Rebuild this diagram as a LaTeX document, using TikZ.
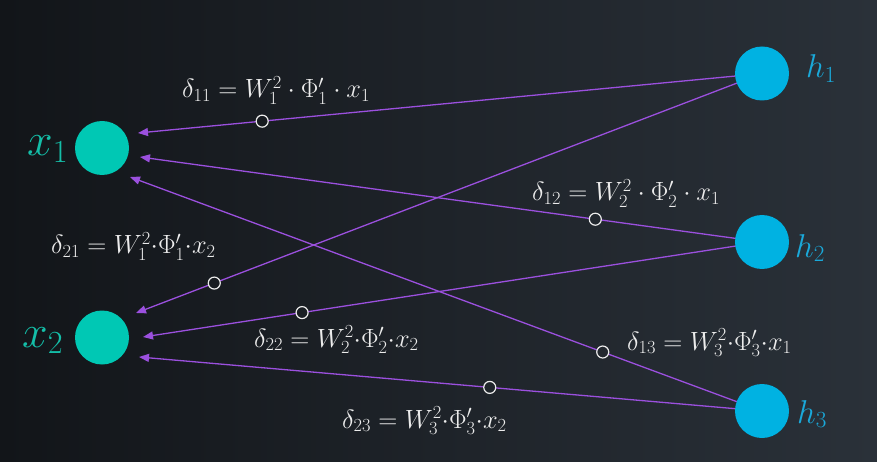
\RequirePackage{fix-cm}
\documentclass[tikz,border=0pt]{standalone}
\usetikzlibrary{arrows.meta}
\pgfdeclarelayer{bg}
\pgfdeclarelayer{edges}
\pgfsetlayers{bg,edges,main}
\definecolor{bgL}{HTML}{121519}
\definecolor{bgR}{HTML}{2A3139}
\definecolor{teal1}{HTML}{00C8B4}
\definecolor{blue1}{HTML}{00B2E2}
\definecolor{tealtxt}{HTML}{14BEA8}
\definecolor{bluetxt}{HTML}{1AA9DA}
\definecolor{edgec}{HTML}{9B50DE}
\definecolor{txt}{HTML}{ECECEC}
\tikzset{
  xnode/.style={circle,fill=teal1,minimum size=54pt,inner sep=0pt},
  hnode/.style={circle,fill=blue1,minimum size=54pt,inner sep=0pt},
  edge/.style={draw=edgec,line width=1.3pt,-{Triangle[length=10pt,width=8pt]}},
  midc/.style={circle,draw=txt,line width=1.2pt,minimum size=12pt,inner sep=0pt},
  dlabel/.style={text=txt,inner sep=0pt,anchor=base west,font=\fontsize{26.4}{31}\selectfont},
  xlabel/.style={text=tealtxt,inner sep=0pt,anchor=base west,font=\fontsize{46}{56}\selectfont},
  hlabel/.style={text=bluetxt,inner sep=0pt,anchor=base west,font=\fontsize{33}{40}\selectfont},
}
\begin{document}
\begin{tikzpicture}[x=1pt,y=-1pt]
\useasboundingbox (0,0) rectangle (877,462);
\begin{pgfonlayer}{bg}
\shade[left color=bgL,right color=bgR] (0,0) rectangle (877,462);
\end{pgfonlayer}
% nodes
\node[xnode] (x1) at (102,148) {};
\node[xnode] (x2) at (102,337.5) {};
\node[hnode] (h1) at (762,73.5) {};
\node[hnode] (h2) at (762,242) {};
\node[hnode] (h3) at (762,411) {};
% labels of nodes
\node[xlabel] (lx1) at (27,156) {$x_1$};
\node[xlabel] (lx2) at (22,347) {$x_2$};
\node[hlabel] (lh1) at (806,78) {$h_1$};
\node[hlabel] (lh2) at (795,257) {$h_2$};
\node[hlabel] (lh3) at (797,423) {$h_3$};
% arrow tips
\coordinate (t11) at (138,133);
\coordinate (t12) at (140,157);
\coordinate (t13) at (130,177);
\coordinate (t21) at (136,313);
\coordinate (t22) at (143,337);
\coordinate (t23) at (139,357);
\begin{pgfonlayer}{edges}
\draw[edge] (h1.center) -- (t11) node[midc,pos=0.801,fill=bgR!21!bgL] (m11) {};
\draw[edge] (h2.center) -- (t12) node[midc,pos=0.268,fill=bgR!68!bgL] (m12) {};
\draw[edge] (h3.center) -- (t13) node[midc,pos=0.252,fill=bgR!69!bgL] (m13) {};
\draw[edge] (h1.center) -- (t21) node[midc,pos=0.875,fill=bgR!24!bgL] (m21) {};
\draw[edge] (h2.center) -- (t22) node[midc,pos=0.743,fill=bgR!34!bgL] (m22) {};
\draw[edge] (h3.center) -- (t23) node[midc,pos=0.437,fill=bgR!56!bgL] (m23) {};
\end{pgfonlayer}
% delta labels
\node[dlabel] (d11) at (182,98) {$\delta_{11} = W_1^2 \cdot \Phi_1' \cdot x_1$};
\node[dlabel] (d12) at (532,201) {$\delta_{12} = W_2^2 \cdot \Phi_2' \cdot x_1$};
\node[dlabel] (d21) at (51,254) {$\delta_{21} = W_1^2{\cdot}\Phi_1'{\cdot}x_2$};
\node[dlabel] (d22) at (254,347) {$\delta_{22} = W_2^2{\cdot}\Phi_2'{\cdot}x_2$};
\node[dlabel] (d13) at (627,350) {$\delta_{13} = W_3^2{\cdot}\Phi_3'{\cdot}x_1$};
\node[dlabel] (d23) at (342,428) {$\delta_{23} = W_3^2{\cdot}\Phi_3'{\cdot}x_2$};
\end{tikzpicture}
\end{document}
